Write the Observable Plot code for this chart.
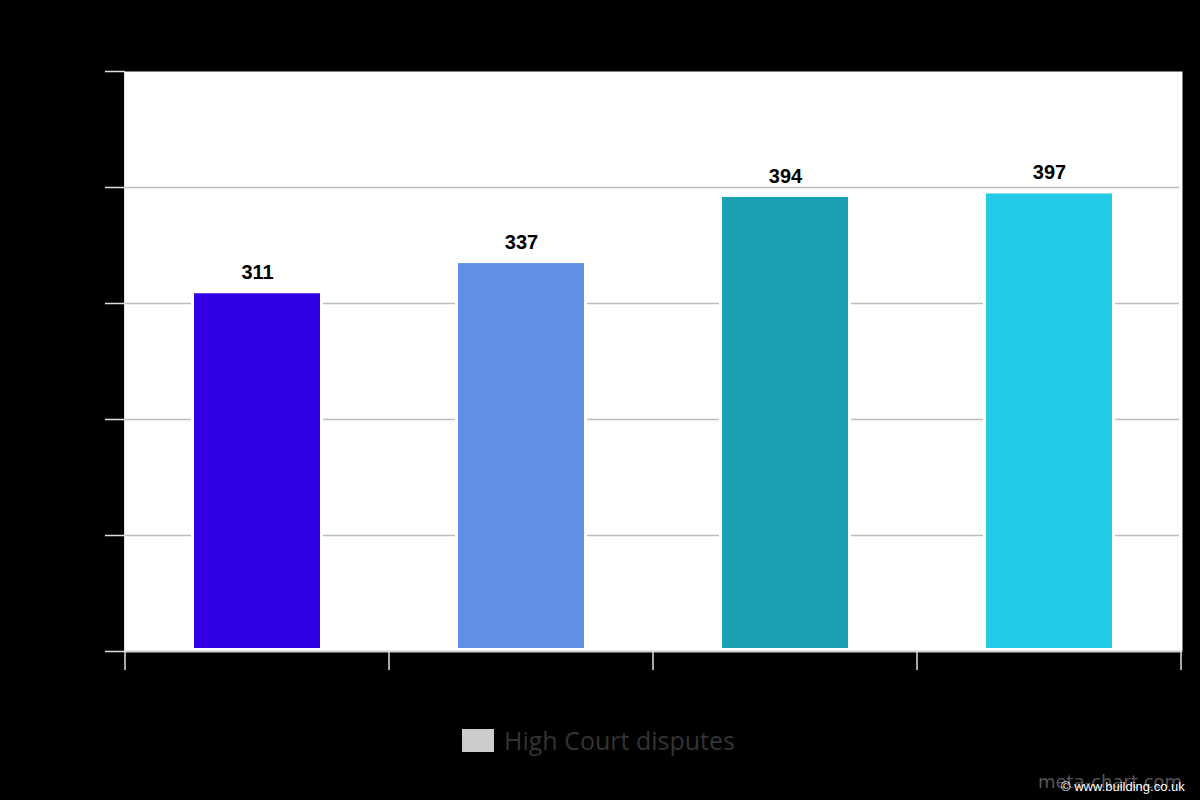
<!DOCTYPE html>
<html><head><meta charset="utf-8">
<script src="https://cdn.jsdelivr.net/npm/d3@7"></script>
<script src="https://cdn.jsdelivr.net/npm/@observablehq/plot@0.6"></script>
<style>
html,body{margin:0;padding:0;background:#000;}
#wrap{position:relative;width:1200px;height:800px;overflow:hidden;}
#wrap svg{position:absolute;left:0;top:0;}
.legend{position:absolute;left:462px;top:723px;display:flex;align-items:center;font-family:"Open Sans",sans-serif;font-size:25px;color:#333;}
.legend .sw{width:32px;height:23px;background:#cccccc;margin-right:10px;}
.wm1{position:absolute;left:1038px;top:771px;font-family:"DejaVu Sans",sans-serif;font-size:18px;color:#555;}
.wm2{position:absolute;left:1061px;top:779px;font-family:"Liberation Sans",Arial,sans-serif;font-size:13px;color:#fff;}
</style></head><body><div id="wrap"></div>
<script>
const categories = ["2014", "2015", "2016", "2017"];
const values = [311, 337, 394, 397];
const barColors = ["#3300e6", "#6190e6", "#1aa1b3", "#22cbe6"];
const yTicks = [0, 100, 200, 300, 400, 500];
const gridTicks = [100, 200, 300, 400];
const seriesName = "High Court disputes";

const data = categories.map((c, i) => ({category: c, value: values[i], color: barColors[i]}));

const chart = Plot.plot({
  width: 1200,
  height: 800,
  marginLeft: 124,
  marginRight: 18,
  marginTop: 71,
  marginBottom: 149,
  style: {background: "transparent", fontFamily: "Liberation Sans, Arial, sans-serif", fontSize: "14px"},
  x: {domain: categories, paddingInner: 0.523, paddingOuter: 0.2615, label: null},
  y: {domain: [0, 500], label: null},
  marks: [
    Plot.frame({fill: "white", stroke: null}),
    Plot.gridY(gridTicks, {stroke: "#bdbdbd", strokeOpacity: 1, strokeWidth: 1.5, insetRight: 3}),
    Plot.barY(data, {x: "category", y: "value", fill: "white", insetLeft: -3, insetRight: -3, insetTop: 2}),
    Plot.barY(data, {x: "category", y: "value", fill: "color", insetBottom: 3, insetTop: 3}),
    Plot.text(data, {x: "category", y: "value", text: d => String(d.value), dy: -18, fontWeight: "bold", fontSize: 20, fill: "black"}),
    Plot.axisY(yTicks, {tickSize: 19, stroke: "#e0e0e0", fill: "black", tickPadding: 4, strokeWidth: 1.5}),
    Plot.frame({anchor: "left", stroke: "#e6e6e6"}),
    Plot.ruleY([0], {stroke: "#d0d0d0", strokeWidth: 2}),
    Plot.axisX({tickSize: 0, fill: "black", tickPadding: 30})
  ]
});

const wrap = document.getElementById("wrap");
wrap.appendChild(chart);

// band-boundary ticks on the x axis, placed with Plot's own x scale
const xs = chart.scale("x");
const ys = chart.scale("y");
const y0 = ys.apply(0);
const step = xs.step;
const bw = xs.bandwidth;
const bounds = categories.map(c => xs.apply(c) - (step - bw) / 2);
bounds.push(xs.apply(categories[categories.length - 1]) + bw + (step - bw) / 2);
d3.select(chart).append("g")
  .selectAll("line").data(bounds).join("line")
  .attr("x1", d => d).attr("x2", d => d)
  .attr("y1", y0).attr("y2", y0 + 19)
  .attr("stroke", "#e0e0e0").attr("stroke-width", 1.5);

const legend = document.createElement("div");
legend.className = "legend";
legend.innerHTML = `<div class="sw"></div><span>${seriesName}</span>`;
wrap.appendChild(legend);

const wm1 = document.createElement("div");
wm1.className = "wm1"; wm1.textContent = "meta-chart.com";
wrap.appendChild(wm1);
const wm2 = document.createElement("div");
wm2.className = "wm2"; wm2.textContent = "© www.building.co.uk";
wrap.appendChild(wm2);
</script></body></html>
